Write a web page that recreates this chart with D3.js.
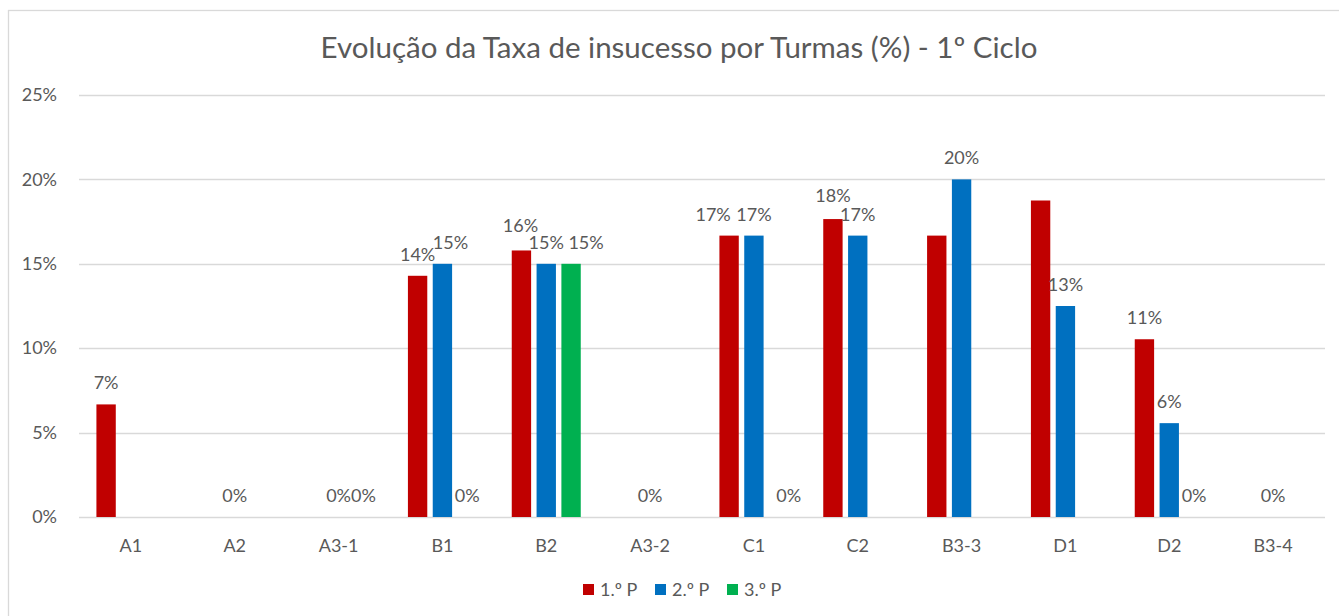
<!DOCTYPE html>
<html>
<head>
<meta charset="utf-8">
<script src="https://cdn.jsdelivr.net/npm/d3@7"></script>
<style>
  body { margin: 0; background: #fff; }
  text { font-family: Lato, "Liberation Sans", sans-serif; fill: #595959; }
</style>
</head>
<body>
<script>
// chart values
var turmas = ['A1', 'A2', 'A3-1', 'B1', 'B2', 'A3-2', 'C1', 'C2', 'B3-3', 'D1', 'D2', 'B3-4'];
var series = ['1.º P', '2.º P', '3.º P'];
var p1 = [6.67, null, null, 14.29, 15.79, null, 16.67, 17.65, 16.67, 18.75, 10.53, null];
var p2 = [null, 0, 0, 15, 15, 0, 16.67, 16.67, 20, 12.5, 5.56, 0];
var p3 = [null, null, 0, 0, 15, null, 0, null, null, null, 0, null];
var yTicks = [0, 5, 10, 15, 20, 25];
var colors = ['#C00000', '#0070C0', '#00B050'];
// labels Excel left out, and the ones it pushed aside (dx, dy in px)
var hiddenLabels = ['B3-3|1.º P', 'D1|1.º P'];
var labelNudge = {
  'B1|2.º P': [8, 0],
  'B2|1.º P': [-1, -3],
  'B2|3.º P': [15, 0],
  'C1|1.º P': [-16, 0],
  'C1|3.º P': [10, 0],
  'C2|1.º P': [0, -2]
};

var width = 1339;
var height = 616;
var margin = { top: 95, right: 14, bottom: 99, left: 79 };

var svg = d3.select('body').append('svg')
  .attr('width', width)
  .attr('height', height);

// chart frame
svg.append('rect')
  .attr('x', 8.5).attr('y', 10.5)
  .attr('width', width + 10).attr('height', height + 10)
  .attr('fill', '#fff')
  .attr('stroke', '#D9D9D9')
  .attr('stroke-width', 1.3);

var x = d3.scaleBand()
  .domain(turmas)
  .range([margin.left, width - margin.right]);

var inner = d3.scaleBand()
  .domain(series)
  .range([-34.5, 34.5])
  .paddingInner(0.22);

var y = d3.scaleLinear()
  .domain([0, 25])
  .range([height - margin.bottom, margin.top]);

// gridlines
svg.append('g')
  .selectAll('line')
  .data(yTicks)
  .join('line')
  .attr('x1', margin.left)
  .attr('x2', width - margin.right)
  .attr('y1', function (d) { return Math.round(y(d)) + 0.5; })
  .attr('y2', function (d) { return Math.round(y(d)) + 0.5; })
  .attr('stroke', '#D9D9D9')
  .attr('stroke-width', 1.3);

// y axis labels
var yAxis = svg.append('g')
  .attr('transform', 'translate(' + (margin.left - 19) + ',0)')
  .call(d3.axisLeft(y).tickValues(yTicks).tickSize(0).tickFormat(function (d) { return d + '%'; }));
yAxis.select('.domain').remove();
yAxis.selectAll('text')
  .attr('font-size', 18)
  .attr('fill', '#595959')
  .style('font-family', 'Lato, sans-serif');

// x axis labels
var xAxis = svg.append('g')
  .attr('transform', 'translate(0,' + (height - margin.bottom) + ')')
  .call(d3.axisBottom(x).tickSize(0));
xAxis.select('.domain').remove();
xAxis.selectAll('text')
  .attr('y', 35)
  .attr('dy', 0)
  .attr('font-size', 18)
  .attr('fill', '#595959')
  .style('font-family', 'Lato, sans-serif');

var rows = turmas.map(function (t, i) {
  return { turma: t, values: [p1[i], p2[i], p3[i]] };
});

var groups = svg.append('g')
  .selectAll('g')
  .data(rows)
  .join('g')
  .attr('transform', function (d) { return 'translate(' + (x(d.turma) + x.bandwidth() / 2) + ',0)'; });

function cells(d) {
  return series.map(function (s, j) {
    return { turma: d.turma, serie: s, value: d.values[j], color: colors[j] };
  }).filter(function (c) { return c.value !== null; });
}

function nudge(d, k) {
  var n = labelNudge[d.turma + '|' + d.serie];
  return n ? n[k] : 0;
}

groups.selectAll('rect')
  .data(cells)
  .join('rect')
  .attr('x', function (d) { return inner(d.serie); })
  .attr('width', inner.bandwidth())
  .attr('y', function (d) { return y(d.value); })
  .attr('height', function (d) { return y(0) - y(d.value); })
  .attr('fill', function (d) { return d.color; });

groups.selectAll('text')
  .data(function (d) {
    return cells(d).filter(function (c) { return hiddenLabels.indexOf(c.turma + '|' + c.serie) < 0; });
  })
  .join('text')
  .attr('x', function (d) { return inner(d.serie) + inner.bandwidth() / 2 + nudge(d, 0); })
  .attr('y', function (d) { return y(d.value) - 15 + nudge(d, 1); })
  .attr('text-anchor', 'middle')
  .attr('font-size', 18)
  .text(function (d) { return Math.round(d.value) + '%'; });

// title
svg.append('text')
  .attr('x', 679)
  .attr('y', 58)
  .attr('text-anchor', 'middle')
  .attr('font-size', 29.5)
  .text('Evolução da Taxa de insucesso por Turmas (%) - 1º Ciclo');

// legend
var legend = svg.append('g')
  .attr('transform', 'translate(583,584)')
  .selectAll('g')
  .data(series)
  .join('g')
  .attr('transform', function (d, i) { return 'translate(' + (i * 72) + ',0)'; });

legend.append('rect')
  .attr('width', 11).attr('height', 11)
  .attr('fill', function (d, i) { return colors[i]; });

legend.append('text')
  .attr('x', 17)
  .attr('y', 12)
  .attr('font-size', 18)
  .text(function (d) { return d; });
</script>
</body>
</html>
